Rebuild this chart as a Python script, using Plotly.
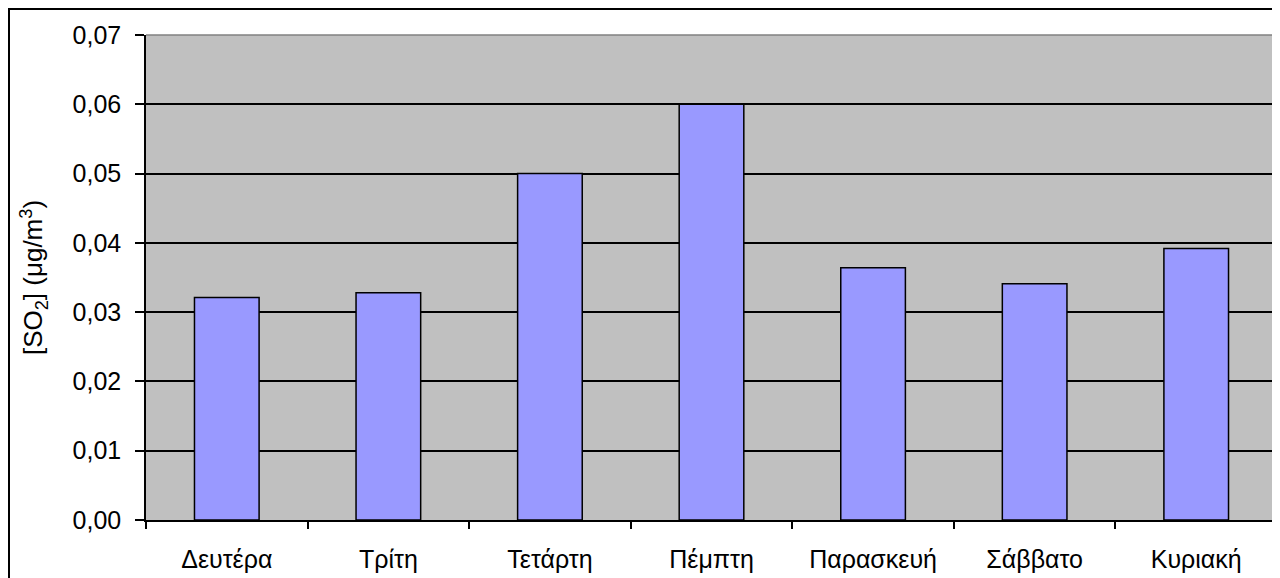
import plotly.graph_objects as go

days = ["Δευτέρα", "Τρίτη", "Τετάρτη", "Πέμπτη", "Παρασκευή", "Σάββατο", "Κυριακή"]
so2 = [0.0321, 0.0328, 0.0500, 0.0600, 0.0364, 0.0341, 0.0392]
y_ticks = [0.00, 0.01, 0.02, 0.03, 0.04, 0.05, 0.06, 0.07]

FONT = "Liberation Sans, Arial, sans-serif"

fig = go.Figure(
    go.Bar(
        x=days,
        y=so2,
        marker=dict(color="#9999FF", line=dict(color="black", width=1.5)),
        width=0.4,
    )
)

# page body has an 8px margin; figure is sized to fit inside the window
W, H = 1272, 570
L, R, T, B = 138, 3, 27, 58
pw = W - L - R
ph = H - T - B

def px(x):
    return (x - L) / pw

def py(y):
    return (H - B - y) / ph

fig.update_layout(
    width=W,
    height=H,
    margin=dict(l=L, r=R, t=T, b=B, autoexpand=False),
    paper_bgcolor="white",
    plot_bgcolor="#C0C0C0",
    separators=", ",
    font=dict(family=FONT, size=25, color="black"),
    showlegend=False,
    shapes=[
        # outer chart frame (cropped on right and bottom)
        dict(type="rect", xref="paper", yref="paper",
             x0=px(1), x1=px(1300), y0=py(600), y1=py(1),
             line=dict(color="black", width=2), fillcolor="rgba(0,0,0,0)", layer="above"),
        # gray plot-area border top and right
        dict(type="line", xref="paper", yref="paper", x0=0, x1=1, y0=1, y1=1,
             line=dict(color="#808080", width=1.5), layer="above"),
        dict(type="line", xref="paper", yref="paper", x0=1, x1=1, y0=0, y1=1,
             line=dict(color="#808080", width=1.5), layer="above"),
    ],
)

fig.update_xaxes(
    showgrid=False,
    showline=True,
    linecolor="black",
    linewidth=1.5,
    ticks="outside",
    tickson="boundaries",
    ticklen=7,
    tickcolor="black",
    tickwidth=1.5,
    ticklabelstandoff=16,
    tickfont=dict(size=25),
)

fig.update_yaxes(
    range=[0, 0.07],
    tickvals=y_ticks,
    tickformat=".2f",
    showgrid=True,
    gridcolor="black",
    gridwidth=1.6,
    showline=True,
    linecolor="black",
    linewidth=1.5,
    ticks="outside",
    ticklen=9,
    tickcolor="black",
    tickwidth=1.5,
    ticklabelstandoff=9,
    tickfont=dict(size=25),
    zeroline=False,
    title=dict(text="[SO<sub>2</sub>] (μg/m<sup>3</sup>)", font=dict(size=26), standoff=22),
)

fig.write_html("out.html")
